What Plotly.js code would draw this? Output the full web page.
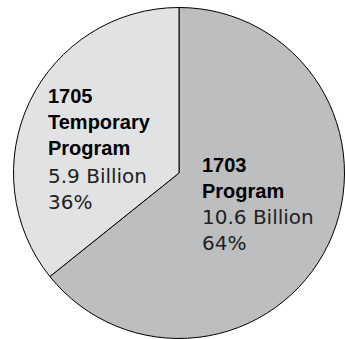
<!DOCTYPE html>
<html>
<head>
<meta charset="utf-8">
<script src="https://cdn.plot.ly/plotly-3.0.1.min.js"></script>
<style>html,body{margin:0;padding:0;background:#fff;}#chart{width:345px;height:339px;}</style>
</head>
<body>
<div id="chart"></div>
<script>
var programs = ["1703", "1705"];
var names = ["Program", "Temporary<br>Program"];
var valuesBillion = [10.6, 5.9];
var sliceColors = ["#bdbec0", "#e1e2e4"];

var total = valuesBillion.reduce(function(a, b){ return a + b; }, 0);
var pct = valuesBillion.map(function(v){ return Math.round(v / total * 100) + "%"; });

var W = 345, H = 339;
function px(x){ return x / W; }
function py(y){ return 1 - y / H; }

var trace = {
  type: "pie",
  labels: programs,
  values: valuesBillion,
  sort: false,
  direction: "clockwise",
  rotation: 0,
  textinfo: "none",
  hoverinfo: "none",
  marker: { colors: sliceColors, line: { color: "#000", width: 1 } },
  domain: { x: [13.5 / W, 344.5 / W], y: [0, 1 - 7 / H] },
  showlegend: false
};

var labelPos = [ { x: 200, yBold: 152, yReg: 203 }, { x: 46, yBold: 83, yReg: 162 } ];

var annotations = [];
for (var i = 0; i < programs.length; i++) {
  annotations.push({
    xref: "paper", yref: "paper", x: px(labelPos[i].x), y: py(labelPos[i].yBold),
    xanchor: "left", yanchor: "top", align: "left", showarrow: false,
    text: "<b>" + programs[i] + "<br>" + names[i] + "</b>",
    font: { family: "Liberation Sans, Arial, sans-serif", size: 20, color: "#000" }
  });
  annotations.push({
    xref: "paper", yref: "paper", x: px(labelPos[i].x), y: py(labelPos[i].yReg),
    xanchor: "left", yanchor: "top", align: "left", showarrow: false,
    text: valuesBillion[i] + " Billion<br>" + pct[i],
    font: { family: "DejaVu Sans, sans-serif", size: 20, color: "#231f20" }
  });
}

var layout = {
  width: W, height: H,
  margin: { l: 0, r: 0, t: 0, b: 0 },
  paper_bgcolor: "#fff",
  annotations: annotations
};

Plotly.newPlot("chart", [trace], layout, { displayModeBar: false, staticPlot: true });
</script>
</body>
</html>
